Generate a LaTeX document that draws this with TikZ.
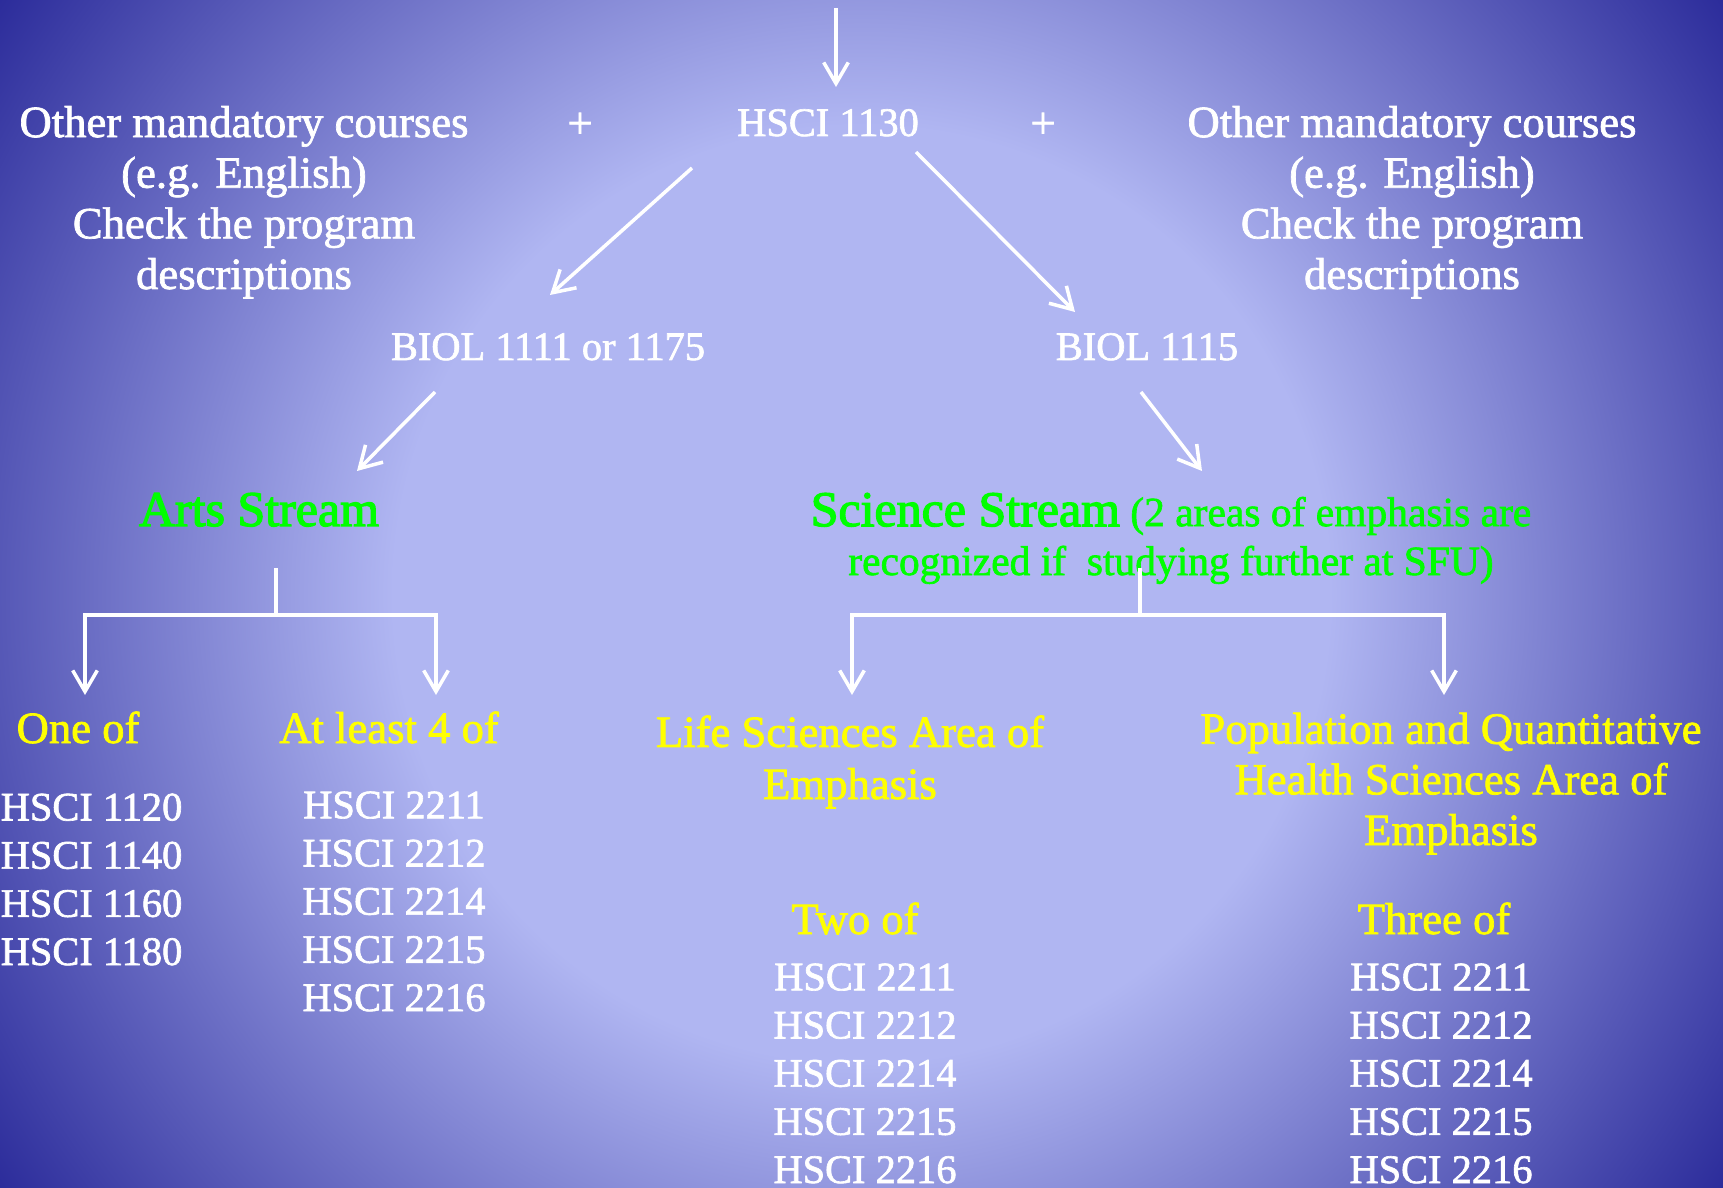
\documentclass[tikz,border=0pt]{standalone}
\usepackage{fontspec}
\setmainfont{Liberation Serif}[FakeBold=1.6]
\newfontfamily\greenfont{Liberation Serif}[FakeBold=2.6]
\usetikzlibrary{arrows.meta}
\definecolor{bglight}{RGB}{176,182,242}
\definecolor{bgdark}{RGB}{40,40,152}
\definecolor{grn}{RGB}{0,255,0}
\definecolor{ylw}{RGB}{255,255,0}
\pgfdeclareradialshading{bgshade}{\pgfpointorigin}{color(0bp)=(bglight); color(11bp)=(bglight); color(25bp)=(bgdark); color(50bp)=(bgdark)}
\begin{document}
\begin{tikzpicture}[x=0.01cm,y=-0.01cm,
  txt/.style={inner sep=0pt, anchor=base, align=center},
  prose/.style={txt, text=white, font=\fontsize{12.7}{14.4}\selectfont},
  code/.style={txt, text=white, font=\fontsize{11.5}{13.7}\selectfont},
  yhead/.style={txt, text=ylw, font=\fontsize{12.7}{14.4}\selectfont},
  ghead/.style={txt, text=grn, font=\greenfont\fontsize{14.2}{14}\selectfont},
  wline/.style={white, line width=1pt},
  arr/.style={wline, -{Straight Barb[length=6pt,width=7pt]}},
]
\useasboundingbox (0,0) rectangle (1723,1188);
\clip (0,0) rectangle (1723,1188);
\shade[shading=bgshade] (-202.5,-470) rectangle (1925.5,1658);

% top row (multi-line nodes: base = baseline of last line)
\node[code] (hsci) at (828,136) {HSCI 1130};
\node[prose] (plusL) at (580,138) {+};
\node[prose] (plusR) at (1043,138) {+};
\node[prose] (otherL) at (244,289) {Other mandatory courses\\(e.g. English)\\Check the program\\descriptions};
\node[prose] (otherR) at (1412,289) {Other mandatory courses\\(e.g. English)\\Check the program\\descriptions};

% biology
\node[code] (biolL) at (548,360) {BIOL 1111 or 1175};
\node[code] (biolR) at (1147,360) {BIOL 1115};

% streams
\node[ghead] (arts) at (259,526) {Arts Stream};
\node[txt, text=grn, font=\fontsize{11.8}{13.9}\selectfont] (sci) at (1171,575)
  {{\greenfont\fontsize{14.2}{13.9}\selectfont Science Stream} (2 areas of emphasis are\\recognized if\ \ studying further at SFU)};

% requirement headings
\node[yhead] (oneof) at (78,743) {One of};
\node[yhead] (atleast) at (389,743) {At least 4 of};
\node[yhead, font=\fontsize{12.7}{14.8}\selectfont] (life) at (850,799) {Life Sciences Area of\\Emphasis};
\node[yhead] (pop) at (1451,845) {Population and Quantitative\\Health Sciences Area of\\Emphasis};
\node[yhead] (twoof) at (855,934) {Two of};
\node[yhead] (threeof) at (1434,934) {Three of};

% course lists
\node[code, anchor=base west] (listA) at (0,965) {HSCI 1120\\HSCI 1140\\HSCI 1160\\HSCI 1180};
\node[code] (listB) at (394,1011) {HSCI 2211\\HSCI 2212\\HSCI 2214\\HSCI 2215\\HSCI 2216};
\node[code] (listC) at (865,1183) {HSCI 2211\\HSCI 2212\\HSCI 2214\\HSCI 2215\\HSCI 2216};
\node[code] (listD) at (1441,1183) {HSCI 2211\\HSCI 2212\\HSCI 2214\\HSCI 2215\\HSCI 2216};

% connectors
\coordinate (start) at (836,8);
\draw[arr] (start) -- ([shift={(8,-49)}]hsci.base);
\draw[arr] ([shift={(-136,32)}]hsci.base) -- ([shift={(2,-65)}]biolL.base);
\draw[arr] ([shift={(88,16)}]hsci.base) -- ([shift={(-72,-48)}]biolR.base);
\draw[arr] ([shift={(-113,32)}]biolL.base) -- ([shift={(98,-55)}]arts.base);
\draw[arr] ([shift={(-6,32)}]biolR.base) -- ([shift={(31,-104)}]sci.base);

\draw[wline] ([shift={(17,42)}]arts.base) -- ++(0,47) coordinate (forkA);
\draw[arr] (forkA) -| ([shift={(7,-48)}]oneof.base);
\draw[arr] (forkA) -| ([shift={(47,-48)}]atleast.base);

\draw[wline] ([shift={(-31,-7)}]sci.base) -- ++(0,47) coordinate (forkS);
\draw[arr] (forkS) -| ([shift={(2,-104)}]life.base);
\draw[arr] (forkS) -| ([shift={(-7,-150)}]pop.base);
\end{tikzpicture}
\end{document}
